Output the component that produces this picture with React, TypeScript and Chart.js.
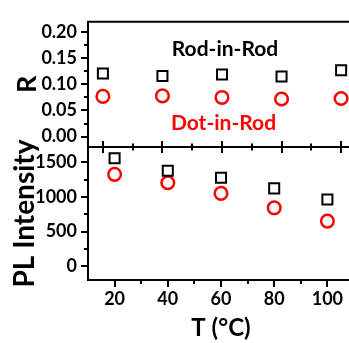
import React, { useEffect, useRef } from "react";
import { Chart, registerables } from "chart.js";

Chart.register(...registerables);

// ---- data ----
const TEMPS = [20, 40, 60, 80, 100];
const R_ROD = [0.121, 0.116, 0.119, 0.115, 0.127];
const R_DOT = [0.077, 0.078, 0.075, 0.072, 0.073];
const PL_ROD = [1557, 1377, 1276, 1123, 963];
const PL_DOT = [1325, 1204, 1050, 842, 650];

const R_TICKS = [0, 0.05, 0.1, 0.15, 0.2];
const R_MINOR = [0.025, 0.075, 0.125, 0.175];
const PL_TICKS = [0, 500, 1000, 1500];
const PL_MINOR = [250, 750, 1250];
const T_TICKS = [20, 40, 60, 80, 100];
const T_MINOR = [30, 50, 70, 90];

const LABEL_TEXT = ["Rod-in-Rod", "Dot-in-Rod"];

const FONT = "Lato";
const W = 370;
const H = 343;

type FrameOpts = {
  topPanel: boolean;
  yMajor: number[];
  yMinor: number[];
  xMajor: number[];
  xMinor: number[];
};

function framePlugin(o: FrameOpts) {
  return {
    id: "frame",
    afterDraw(chart: any) {
      const { ctx, chartArea: a, scales } = chart;
      const xs = scales.x;
      const ys = scales.y;
      ctx.save();
      ctx.strokeStyle = "#000";
      ctx.lineWidth = 2;
      ctx.lineCap = "butt";
      ctx.beginPath();
      ctx.moveTo(a.left, a.top - 1);
      ctx.lineTo(a.left, a.bottom + 1);
      ctx.moveTo(a.left - 1, a.top);
      ctx.lineTo(a.right, a.top);
      ctx.moveTo(a.left - 1, a.bottom);
      ctx.lineTo(a.right, a.bottom);
      for (const v of o.yMajor) {
        const p = Math.round(ys.getPixelForValue(v));
        ctx.moveTo(a.left - 7, p);
        ctx.lineTo(a.left, p);
      }
      for (const v of o.yMinor) {
        const p = Math.round(ys.getPixelForValue(v));
        ctx.moveTo(a.left - 4, p);
        ctx.lineTo(a.left, p);
      }
      for (const v of o.xMajor) {
        const p = Math.round(xs.getPixelForValue(v));
        if (o.topPanel) {
          ctx.moveTo(p, a.bottom - 6);
          ctx.lineTo(p, a.bottom + 6);
        } else {
          ctx.moveTo(p, a.bottom - 1);
          ctx.lineTo(p, a.bottom + 7);
        }
      }
      for (const v of o.xMinor) {
        const p = Math.round(xs.getPixelForValue(v));
        if (o.topPanel) {
          ctx.moveTo(p, a.bottom - 3.5);
          ctx.lineTo(p, a.bottom + 3.5);
        } else {
          ctx.moveTo(p, a.bottom - 1);
          ctx.lineTo(p, a.bottom + 4);
        }
      }
      ctx.stroke();
      ctx.restore();
    },
  };
}

const labelPlugin = {
  id: "labels",
  afterDraw(chart: any) {
    const { ctx, scales } = chart;
    const xs = scales.x;
    const ys = scales.y;
    ctx.save();
    ctx.font = `bold 21px ${FONT}`;
    ctx.textAlign = "center";
    ctx.textBaseline = "middle";
    ctx.fillStyle = "#000";
    ctx.fillText(LABEL_TEXT[0], xs.getPixelForValue(61), ys.getPixelForValue(0.168));
    ctx.fillStyle = "#ff0000";
    ctx.fillText(LABEL_TEXT[1], xs.getPixelForValue(60.5), ys.getPixelForValue(0.026));
    ctx.restore();
  },
};

const tickFont = { family: FONT, size: 18, weight: "bold" as const };

function squareSet(label: string, ys: number[]) {
  return {
    label,
    data: TEMPS.map((t, i) => ({ x: t, y: ys[i] })),
    pointStyle: "rect",
    pointRadius: 7.1,
    pointBorderWidth: 2,
    pointBorderColor: "#000",
    pointBackgroundColor: "rgba(0,0,0,0)",
    showLine: false,
  };
}

function circleSet(label: string, ys: number[]) {
  return {
    label,
    data: TEMPS.map((t, i) => ({ x: t, y: ys[i] })),
    pointStyle: "circle",
    pointRadius: 6.3,
    pointBorderWidth: 2.5,
    pointBorderColor: "#ff0000",
    pointBackgroundColor: "rgba(0,0,0,0)",
    showLine: false,
  };
}

export default function App() {
  const topRef = useRef<HTMLCanvasElement | null>(null);
  const botRef = useRef<HTMLCanvasElement | null>(null);

  useEffect(() => {
    const common = {
      responsive: false,
      animation: false as const,
      plugins: { legend: { display: false }, tooltip: { enabled: false } },
    };

    const top = new Chart(topRef.current!, {
      type: "scatter",
      data: {
        datasets: [squareSet("Rod-in-Rod", R_ROD), circleSet("Dot-in-Rod", R_DOT)] as any,
      },
      options: {
        ...common,
        layout: { padding: { top: 16, right: 14, left: 0, bottom: 0 } },
        scales: {
          x: {
            type: "linear",
            min: 15,
            max: 105,
            ticks: { display: false },
            grid: { display: false, drawTicks: false },
            border: { display: false },
            afterFit: (s: any) => {
              s.height = H - 147;
            },
          },
          y: {
            type: "linear",
            min: -0.02,
            max: 0.22,
            afterBuildTicks: (s: any) => {
              s.ticks = R_TICKS.map((v) => ({ value: v }));
            },
            ticks: {
              autoSkip: false,
              font: tickFont,
              color: "#000",
              padding: 11,
              callback: (v: any) => Number(v).toFixed(2),
            },
            grid: { display: false, drawTicks: false },
            border: { display: false },
            title: {
              display: true,
              text: "R",
              color: "#000",
              font: { family: FONT, size: 27, weight: "bold" },
              padding: { top: 11, bottom: 0 },
            },
            afterFit: (s: any) => {
              s.width = 88;
            },
          },
        },
      } as any,
      plugins: [
        framePlugin({ topPanel: true, yMajor: R_TICKS, yMinor: R_MINOR, xMajor: T_TICKS, xMinor: T_MINOR }),
        labelPlugin,
      ],
    });

    const bot = new Chart(botRef.current!, {
      type: "scatter",
      data: {
        datasets: [squareSet("Rod-in-Rod", PL_ROD), circleSet("Dot-in-Rod", PL_DOT)] as any,
      },
      options: {
        ...common,
        layout: { padding: { top: 147, right: 16, left: 0, bottom: 0 } },
        scales: {
          x: {
            type: "linear",
            min: 10,
            max: 110,
            afterBuildTicks: (s: any) => {
              s.ticks = T_TICKS.map((v) => ({ value: v }));
            },
            ticks: {
              autoSkip: false,
              maxRotation: 0,
              font: tickFont,
              color: "#000",
              padding: 8,
              callback: (v: any) => String(v),
            },
            grid: { display: false, drawTicks: false },
            border: { display: false },
            title: {
              display: true,
              text: "T (°C)",
              color: "#000",
              font: { family: FONT, size: 24, weight: "bold" },
              padding: { top: 0, bottom: 0 },
            },
            afterFit: (s: any) => {
              s.height = H - 280;
            },
          },
          y: {
            type: "linear",
            min: -200,
            max: 1720,
            afterBuildTicks: (s: any) => {
              s.ticks = PL_TICKS.map((v) => ({ value: v }));
            },
            ticks: {
              autoSkip: false,
              font: tickFont,
              color: "#000",
              padding: 11,
              callback: (v: any) => String(v),
            },
            grid: { display: false, drawTicks: false },
            border: { display: false },
            title: {
              display: true,
              text: "PL Intensity",
              color: "#000",
              font: { family: FONT, size: 28, weight: "bold" },
              padding: { top: 8, bottom: 0 },
            },
            afterFit: (s: any) => {
              s.width = 88;
            },
          },
        },
      } as any,
      plugins: [framePlugin({ topPanel: false, yMajor: PL_TICKS, yMinor: PL_MINOR, xMajor: T_TICKS, xMinor: T_MINOR })],
    });

    return () => {
      top.destroy();
      bot.destroy();
    };
  }, []);

  const cstyle: React.CSSProperties = { position: "absolute", left: 0, top: 0 };
  return (
    <div
      style={{
        position: "absolute",
        left: 0,
        top: 0,
        width: 349,
        height: H,
        overflow: "hidden",
        background: "#fff",
      }}
    >
      <canvas ref={botRef} width={W} height={H} style={{ ...cstyle, width: W, height: H }} />
      <canvas ref={topRef} width={W} height={H} style={{ ...cstyle, width: W, height: H }} />
    </div>
  );
}
